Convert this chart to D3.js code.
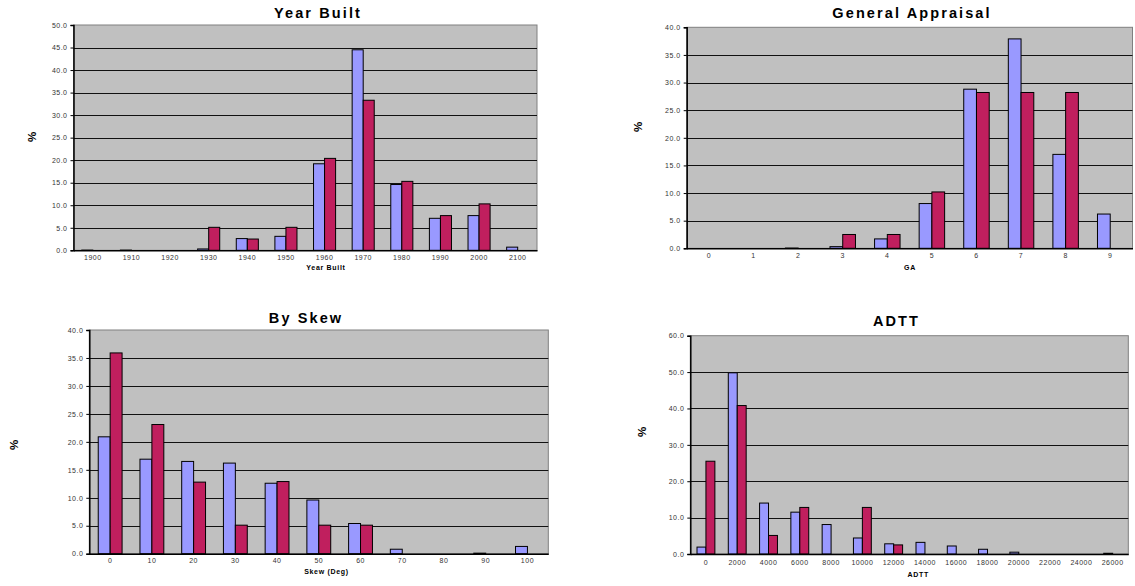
<!DOCTYPE html>
<html>
<head>
<meta charset="utf-8">
<script src="https://cdn.jsdelivr.net/npm/d3@7"></script>
<style>
  body { margin: 0; background: #fff; }
  svg { display: block; }
  text { font-family: "Liberation Sans", Arial, sans-serif; }
</style>
</head>
<body>
<svg id="chart" width="1135" height="586"></svg>
<script>
// ---- Year Built ----
const yearCats = ["1900", "1910", "1920", "1930", "1940", "1950", "1960", "1970", "1980", "1990", "2000", "2100"];
const yearBlue = [0.05, 0.05, 0, 0.3, 2.6, 3.1, 19.2, 44.5, 14.6, 7.1, 7.7, 0.7];
const yearRed  = [0, 0, 0, 5.1, 2.5, 5.1, 20.4, 33.3, 15.3, 7.7, 10.3, 0];

// ---- General Appraisal ----
const gaCats = ["0", "1", "2", "3", "4", "5", "6", "7", "8", "9"];
const gaBlue = [0, 0, 0.05, 0.3, 1.7, 8.1, 28.8, 37.9, 17.0, 6.2];
const gaRed  = [0, 0, 0, 2.5, 2.5, 10.2, 28.2, 28.2, 28.2, 0];

// ---- By Skew ----
const skewCats = ["0", "10", "20", "30", "40", "50", "60", "70", "80", "90", "100"];
const skewBlue = [20.9, 16.9, 16.5, 16.2, 12.6, 9.6, 5.4, 0.8, 0, 0.1, 1.3];
const skewRed  = [35.9, 23.1, 12.8, 5.1, 12.9, 5.1, 5.1, 0, 0, 0, 0];

// ---- ADTT ----
const adttCats = ["0", "2000", "4000", "6000", "8000", "10000", "12000", "14000", "16000", "18000", "20000", "22000", "24000", "26000"];
const adttBlue = [1.9, 49.8, 14.0, 11.5, 8.1, 4.4, 2.8, 3.2, 2.2, 1.3, 0.5, 0, 0, 0.2];
const adttRed  = [25.5, 40.8, 5.1, 12.8, 0, 12.8, 2.5, 0, 0, 0, 0, 0, 0, 0];

const BLUE = "#9999FF";
const RED = "#C01F5E";
const PLOT_BG = "#C0C0C0";

const svg = d3.select("#chart");
const fmt = d3.format(".1f");

function drawPanel(cfg) {
  const { cats, blue, red, yMax, yStep, box, title, titleXY, xTitle, xTitleXY, pctXY, tickBase } = cfg;
  const g = svg.append("g");

  const x0 = d3.scaleBand().domain(cats).range([box.l, box.r]).paddingInner(0).paddingOuter(0);
  const x1 = d3.scaleBand().domain(["a", "b"]).range([0, x0.bandwidth()]).paddingInner(0).paddingOuter(0.75);
  const y = d3.scaleLinear().domain([0, yMax]).range([box.b, box.t]);
  const ticks = d3.range(0, yMax + yStep / 2, yStep);

  // plot area
  g.append("rect")
    .attr("x", box.l).attr("y", box.t)
    .attr("width", box.r - box.l).attr("height", box.b - box.t)
    .attr("fill", PLOT_BG).attr("stroke", "#808080").attr("stroke-width", 1);

  // horizontal gridlines
  g.append("g").selectAll("line").data(ticks.filter(t => t > 0 && t < yMax)).join("line")
    .attr("x1", box.l).attr("x2", box.r)
    .attr("y1", d => Math.round(y(d)) + 0.5).attr("y2", d => Math.round(y(d)) + 0.5)
    .attr("stroke", "#111").attr("stroke-width", 1);

  // bars
  const rows = cats.map((c, i) => ({ c, a: blue[i], b: red[i] }));
  const barG = g.append("g");
  rows.forEach(r => {
    [["a", r.a, BLUE], ["b", r.b, RED]].forEach(([k, v, col]) => {
      if (v <= 0) return;
      barG.append("rect")
        .attr("x", x0(r.c) + x1(k))
        .attr("y", y(v))
        .attr("width", x1.bandwidth())
        .attr("height", Math.max(0.1, y(0) - y(v)))
        .attr("fill", col)
        .attr("stroke", "#000")
        .attr("stroke-width", 1);
    });
  });

  // y axis
  const yAxis = d3.axisLeft(y).tickValues(ticks).tickFormat(fmt).tickSize(3).tickPadding(3);
  const ya = g.append("g").attr("transform", `translate(${box.l},0)`).call(yAxis);
  ya.select(".domain").attr("stroke", "#000").attr("stroke-width", 1.5);
  ya.selectAll(".tick line").attr("stroke", "#000");
  ya.selectAll(".tick text")
    .attr("font-family", "Liberation Sans, Arial, sans-serif")
    .attr("font-size", 7).attr("fill", "#333").attr("letter-spacing", "0.5px");

  // x axis
  const xAxis = d3.axisBottom(x0).tickSize(0).tickPadding(0);
  const xa = g.append("g").attr("transform", `translate(0,${box.b})`).call(xAxis);
  xa.select(".domain").attr("stroke", "#000").attr("stroke-width", 1.5);
  xa.selectAll(".tick text")
    .attr("font-family", "Liberation Sans, Arial, sans-serif")
    .attr("font-size", 7).attr("fill", "#333").attr("letter-spacing", "0.5px")
    .attr("dy", null).attr("y", tickBase - box.b);

  // title
  g.append("text").attr("x", titleXY[0]).attr("y", titleXY[1])
    .attr("text-anchor", "middle").attr("font-weight", "bold")
    .attr("font-size", 14.5).attr("letter-spacing", "2.1px").attr("fill", "#000")
    .text(title);

  // x-axis title
  g.append("text").attr("x", xTitleXY[0]).attr("y", xTitleXY[1])
    .attr("text-anchor", "middle").attr("font-weight", "bold")
    .attr("font-size", 7).attr("letter-spacing", "0.7px").attr("fill", "#000")
    .text(xTitle);

  // y-axis title
  g.append("text")
    .attr("transform", `translate(${pctXY[0]},${pctXY[1]}) rotate(-90)`)
    .attr("text-anchor", "middle").attr("font-weight", "bold")
    .attr("font-size", 11.5).attr("fill", "#000")
    .text("%");
}

drawPanel({
  cats: yearCats, blue: yearBlue, red: yearRed, yMax: 50, yStep: 5,
  box: { l: 73.5, t: 25, r: 537, b: 250.3 },
  title: "Year Built", titleXY: [318, 17.5],
  xTitle: "Year Built", xTitleXY: [326, 269.5],
  pctXY: [36, 137], tickBase: 260.5
});

drawPanel({
  cats: gaCats, blue: gaBlue, red: gaRed, yMax: 40, yStep: 5,
  box: { l: 686.7, t: 27.3, r: 1132.5, b: 248.3 },
  title: "General Appraisal", titleXY: [912, 18],
  xTitle: "GA", xTitleXY: [910, 269.5],
  pctXY: [642, 127], tickBase: 258.5
});

drawPanel({
  cats: skewCats, blue: skewBlue, red: skewRed, yMax: 40, yStep: 5,
  box: { l: 89.3, t: 330, r: 548.3, b: 553.7 },
  title: "By Skew", titleXY: [306, 322.7],
  xTitle: "Skew (Deg)", xTitleXY: [326.5, 574],
  pctXY: [18, 445], tickBase: 563.5
});

drawPanel({
  cats: adttCats, blue: adttBlue, red: adttRed, yMax: 60, yStep: 10,
  box: { l: 690.3, t: 335.7, r: 1128.3, b: 554 },
  title: "ADTT", titleXY: [896.5, 326],
  xTitle: "ADTT", xTitleXY: [918.3, 576.5],
  pctXY: [646, 432], tickBase: 564.5
});
</script>
</body>
</html>
